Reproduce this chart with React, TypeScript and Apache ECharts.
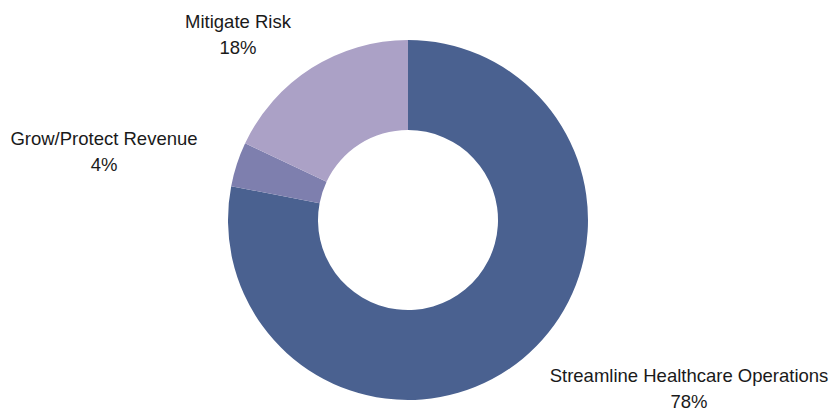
import React, { useEffect, useRef } from "react";
import * as echarts from "echarts";

const categories = ["Streamline Healthcare Operations", "Grow/Protect Revenue", "Mitigate Risk"];
const shares = [78, 4, 18];
const colors = ["#4A6190", "#7E7FAE", "#ABA1C6"];
const labelPos: [number, number][] = [
  [689, 388],
  [104, 151],
  [238, 34],
];

export default function App() {
  const ref = useRef<HTMLDivElement>(null);
  useEffect(() => {
    if (!ref.current) return;
    const chart = echarts.init(ref.current, undefined, { renderer: "svg" });
    chart.setOption({
      animation: false,
      backgroundColor: "#ffffff",
      series: [
        {
          type: "pie",
          center: [408, 220],
          radius: [90, 180],
          startAngle: 90,
          clockwise: true,
          silent: true,
          data: categories.map((name, i) => ({
            name,
            value: shares[i],
            itemStyle: { color: colors[i] },
          })),
          label: {
            show: true,
            position: "outside",
            formatter: (p: any) => `${p.name}\n${p.value}%`,
            fontFamily: "'Liberation Sans', Arial, sans-serif",
            fontSize: 18.5,
            lineHeight: 26,
            color: "#1a1a1a",
            align: "center",
            overflow: "none",
            width: 320,
          },
          labelLine: { show: false },
          labelLayout: (params: any) => ({
            x: labelPos[params.dataIndex][0],
            y: labelPos[params.dataIndex][1],
            align: "center",
            verticalAlign: "middle",
          }),
          emphasis: { disabled: true },
        },
      ],
    });
    return () => chart.dispose();
  }, []);
  return (
    <div
      ref={ref}
      style={{ position: "fixed", left: 0, top: 0, width: 836, height: 409 }}
    />
  );
}
